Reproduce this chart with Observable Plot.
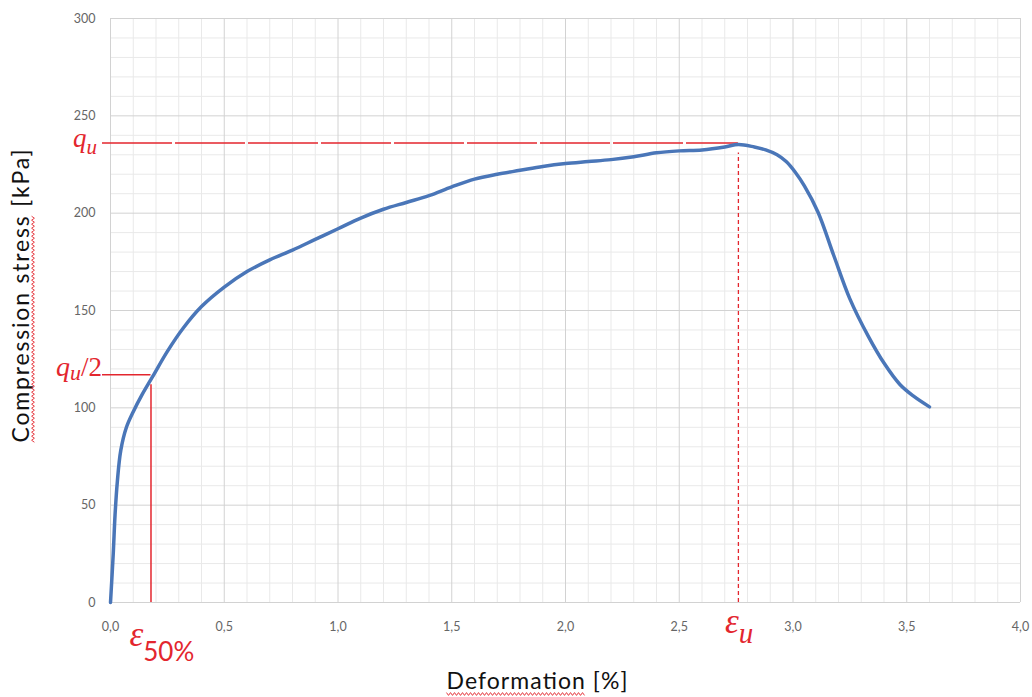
<!DOCTYPE html>
<html><head><meta charset="utf-8">
<script src="https://cdn.jsdelivr.net/npm/d3@7"></script>
<script src="https://cdn.jsdelivr.net/npm/@observablehq/plot@0.6"></script>
<style>
body{margin:0;background:#fff}
#chart svg{display:block}
</style>
</head><body><div id="chart"></div>
<script>
// Deformation [%] and compression stress [kPa]
const deformation = [0, 0.012, 0.02, 0.03, 0.045, 0.07, 0.10, 0.14, 0.185, 0.25, 0.32, 0.40, 0.50, 0.60, 0.70, 0.80, 0.90, 1.00, 1.10, 1.20, 1.30, 1.40, 1.50, 1.60, 1.70, 1.80, 1.90, 2.00, 2.10, 2.20, 2.30, 2.40, 2.50, 2.60, 2.70, 2.76, 2.83, 2.88, 2.93, 2.97, 3.01, 3.05, 3.11, 3.18, 3.25, 3.33, 3.40, 3.47, 3.53, 3.60];
const stress = [0, 25, 45, 62, 78, 90, 98, 107, 116, 129, 141, 152, 162, 170, 176, 181, 186.5, 192, 197.5, 202, 205.5, 209, 213.5, 217.5, 220, 222, 224, 225.5, 226.5, 227.5, 229, 231, 232, 232.5, 234, 235.3, 234, 232.5, 230, 226.5, 221, 214, 200.5, 178, 156, 137, 123, 112, 106, 100.5];
const xTicks = [0, 0.5, 1, 1.5, 2, 2.5, 3, 3.5, 4];
const yTicks = [0, 50, 100, 150, 200, 250, 300];
const xMinor = [0.1,0.2,0.3,0.4,0.6,0.7,0.8,0.9,1.1,1.2,1.3,1.4,1.6,1.7,1.8,1.9,2.1,2.2,2.3,2.4,2.6,2.7,2.8,2.9,3.1,3.2,3.3,3.4,3.6,3.7,3.8,3.9];
const yMinor = [10,20,30,40,60,70,80,90,110,120,130,140,160,170,180,190,210,220,230,240,260,270,280,290];
const qu = 236;        // unconfined compressive strength
const quHalf = 117;    // qu/2
const eps50 = 0.178;   // strain at qu/2
const epsU = 2.76;     // strain at qu

const data = deformation.map((d, i) => ({x: d, y: stress[i]}));
const fmt = d => d.toFixed(1).replace(".", ",");
const red = "#e3262e";

const chart = Plot.plot({
  width: 1032, height: 697,
  marginLeft: 110, marginRight: 12, marginTop: 18, marginBottom: 95,
  style: {fontFamily: "Lato, sans-serif", background: "#fff", overflow: "visible"},
  x: {domain: [0, 4], label: null},
  y: {domain: [0, 300], label: null},
  marks: [
    Plot.gridX(xMinor, {stroke: "#e9e9e9", strokeOpacity: 1}),
    Plot.gridY(yMinor, {stroke: "#e9e9e9", strokeOpacity: 1}),
    Plot.gridX(xTicks, {stroke: "#d2d2d2", strokeOpacity: 1}),
    Plot.gridY(yTicks, {stroke: "#d2d2d2", strokeOpacity: 1}),
    Plot.axisX(xTicks, {tickFormat: fmt, tickSize: 0, tickPadding: 20, fontSize: 12.5, fill: "#666", label: null}),
    Plot.axisY(yTicks, {tickSize: 0, tickPadding: 15, fontSize: 12.5, fill: "#666", label: null}),
    Plot.ruleY([qu], {x1: 0, x2: epsU, stroke: red, strokeWidth: 1.5, strokeDasharray: "70,3", insetLeft: -8}),
    Plot.ruleY([quHalf], {x1: 0, x2: eps50, stroke: red, strokeWidth: 1.5, insetLeft: -8}),
    Plot.ruleX([epsU], {y1: 0, y2: qu, stroke: red, strokeWidth: 1.3, strokeDasharray: "4,3", insetBottom: -10}),
    Plot.ruleX([eps50], {y1: 0, y2: quHalf, stroke: red, strokeWidth: 1.5, insetBottom: -10}),
    Plot.line(data, {x: "x", y: "y", stroke: "#4a76b8", strokeWidth: 3.5, curve: "catmull-rom"})
  ]
});
document.getElementById("chart").appendChild(chart);

const sx = chart.scale("x"), sy = chart.scale("y");
const svg = d3.select(chart);
const serif = "'Liberation Serif', serif";

// q_u label
const t1 = svg.append("text").attr("x", 97).attr("y", sy.apply(qu) + 4)
  .attr("text-anchor", "end").attr("fill", red).attr("font-family", serif).attr("font-style", "italic");
t1.append("tspan").attr("font-size", 27).text("q");
t1.append("tspan").attr("font-size", 21).attr("dy", 7).text("u");

// q_u/2 label
const t2 = svg.append("text").attr("x", 102).attr("y", sy.apply(quHalf) + 2)
  .attr("text-anchor", "end").attr("fill", red).attr("font-family", serif).attr("font-style", "italic");
t2.append("tspan").attr("font-size", 28).text("q");
t2.append("tspan").attr("font-size", 22).attr("dy", 4).text("u");
t2.append("tspan").attr("font-size", 27).attr("dy", -4).attr("font-style", "normal").text("/2");

// epsilon 50%
const t3 = svg.append("text").attr("x", sx.apply(eps50) - 21).attr("y", 646)
  .attr("text-anchor", "start").attr("fill", red).attr("font-family", serif);
t3.append("tspan").attr("font-size", 35).attr("font-style", "italic").text("ε");
t3.append("tspan").attr("font-size", 26).attr("dy", 15).attr("font-family", "Lato, sans-serif").text("50%");

// epsilon u
const t4 = svg.append("text").attr("x", sx.apply(epsU) - 13).attr("y", 633)
  .attr("text-anchor", "start").attr("fill", red).attr("font-family", serif).attr("font-style", "italic");
t4.append("tspan").attr("font-size", 35).text("ε");
t4.append("tspan").attr("font-size", 29).attr("dy", 10).text("u");

// axis titles with spell-check style wavy underline
function wavy(pts0) {
  svg.append("path").attr("d", d3.line()(pts0)).attr("fill", "none").attr("stroke", red).attr("stroke-width", 0.9);
}
function zig(a, b, fixed, vertical) {
  const pts = [];
  for (let s = a, k = 0; s <= b; s += 2, k++) {
    const o = fixed + (k % 2 ? 1.4 : -1.4);
    pts.push(vertical ? [o, s] : [s, o]);
  }
  return pts;
}
const ty = svg.append("text").attr("transform", "translate(29,296) rotate(-90)")
  .attr("text-anchor", "middle").attr("font-family", "Lato, sans-serif").attr("font-size", 23).attr("fill", "#111")
  .attr("textLength", 293).attr("lengthAdjust", "spacing");
ty.append("tspan").text("Compression stress");
ty.append("tspan").text(" [kPa]");
{
  const n = ty.node();
  const u0 = n.getStartPositionOfChar(0).x, u1 = n.getEndPositionOfChar(17).x;
  wavy(zig(296 - u1, 296 - u0, 33, true));
}

const tx = svg.append("text").attr("x", 537).attr("y", 689)
  .attr("text-anchor", "middle").attr("font-family", "Lato, sans-serif").attr("font-size", 23).attr("fill", "#111")
  .attr("textLength", 181).attr("lengthAdjust", "spacing");
tx.append("tspan").text("Deformation");
tx.append("tspan").text(" [%]");
{
  const n = tx.node();
  const u0 = n.getStartPositionOfChar(0).x, u1 = n.getEndPositionOfChar(10).x;
  wavy(zig(u0, u1, 694, false));
}
</script>
</body></html>
